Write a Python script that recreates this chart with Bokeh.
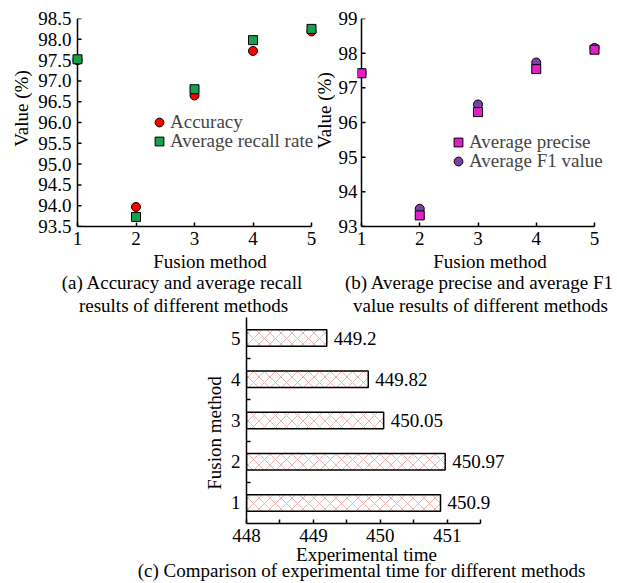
import math
from bokeh.plotting import figure
from bokeh.models import Range1d, FixedTicker, Label, Legend, LegendItem
from bokeh.layouts import column, row
from bokeh.embed import file_html
from bokeh.resources import INLINE
from bokeh.core.properties import value

# ---------------- data ----------------
methods = [1, 2, 3, 4, 5]
accuracy = [97.50, 93.97, 96.65, 97.72, 98.19]
recall_rate = [97.52, 93.73, 96.80, 97.98, 98.25]
avg_precise = [97.42, 93.32, 96.30, 97.54, 98.10]
avg_f1 = [97.43, 93.51, 96.52, 97.73, 98.15]

time_methods = [1, 2, 3, 4, 5]
exp_time = [450.9, 450.97, 450.05, 449.82, 449.2]
time_labels = ["450.9", "450.97", "450.05", "449.82", "449.2"]

x_ticks = [1, 2, 3, 4, 5]
x_tick_labels = ["1", "2", "3", "4", "5"]
y_ticks_a = [93.5, 94.0, 94.5, 95.0, 95.5, 96.0, 96.5, 97.0, 97.5, 98.0, 98.5]
y_tick_labels_a = ["93.5", "94.0", "94.5", "95.0", "95.5", "96.0", "96.5", "97.0", "97.5", "98.0", "98.5"]
y_ticks_b = [93, 94, 95, 96, 97, 98, 99]
y_tick_labels_b = ["93", "94", "95", "96", "97", "98", "99"]
time_ticks = [448, 449, 450, 451]
time_minor_ticks = [448.5, 449.5, 450.5, 451.5]
cat_minor_ticks = [1.5, 2.5, 3.5, 4.5]

FONT = "Liberation Serif"
FS = "19px"


def style_axis(ax):
    ax.axis_line_color = "black"
    ax.axis_line_width = 1.5
    ax.major_tick_in = 4
    ax.major_tick_out = 0
    ax.major_tick_line_width = 1.5
    ax.minor_tick_in = 4
    ax.minor_tick_out = 0
    ax.minor_tick_line_width = 1.5
    ax.major_label_text_font = FONT
    ax.major_label_text_font_size = FS
    ax.major_label_text_color = "black"
    ax.major_label_standoff = 5
    ax.axis_label = None


def base_fig(**kw):
    p = figure(output_backend="svg", toolbar_location=None, title=None, **kw)
    p.xgrid.visible = False
    p.ygrid.visible = False
    p.outline_line_color = None
    p.background_fill_color = "white"
    p.border_fill_color = "white"
    return p


def add_text(p, side, x, y, text, angle=0.0):
    lab = Label(x=x, y=y, x_units="canvas", y_units="canvas", text=text,
                angle=angle, text_align="center", text_baseline="middle",
                text_font=FONT, text_font_size=FS, text_color="black")
    if side is None:
        p.add_layout(lab)
    else:
        p.add_layout(lab, side)


def add_legend(p, renderer, label, loc):
    p.add_layout(Legend(items=[LegendItem(label=label, renderers=[renderer])],
                        location=loc, padding=0, margin=0, spacing=0,
                        glyph_width=22, glyph_height=22, label_height=18,
                        label_standoff=0,
                        label_text_font=FONT, label_text_font_size=FS,
                        background_fill_alpha=0, border_line_color=None), "center")


def value_axis(p, ticks, labels):
    # tick labels from the left axis; axis line and inward ticks drawn at x = 1
    ax = p.yaxis[0]
    style_axis(ax)
    ax.ticker = FixedTicker(ticks=ticks)
    ax.major_label_overrides = dict(zip(ticks, labels))
    ax.axis_line_color = None
    ax.major_tick_in = 0
    ax.major_label_standoff = 0
    p.segment(x0=[methods[0]], y0=[ticks[0]], x1=[methods[0]], y1=[ticks[-1]],
              line_color="black", line_width=1.5)
    p.ray(x=[methods[0]] * len(ticks), y=ticks, length=4, length_units="screen",
          angle=0, line_color="black", line_width=1.5)


def method_axis(p):
    ax = p.xaxis[0]
    style_axis(ax)
    ax.ticker = FixedTicker(ticks=x_ticks)
    ax.major_label_overrides = dict(zip(x_ticks, x_tick_labels))
    ax.bounds = (x_ticks[0], x_ticks[-1])


# ---------------- (a) ----------------
ua = 58.5
pa = base_fig(width=335, height=316,
              x_range=Range1d(1 - 6 / ua, 5 + 24 / ua), y_range=Range1d(93.5, 98.5),
              min_border_left=71, min_border_right=0, min_border_top=18, min_border_bottom=90)
method_axis(pa)
value_axis(pa, y_ticks_a, y_tick_labels_a)

ra1 = pa.scatter(methods, accuracy, marker="circle", size=9, fill_color="#ff0000",
                 line_color="black", line_width=1)
ra2 = pa.scatter(methods, recall_rate, marker="square", size=9, fill_color="#15a04e",
                 line_color="black", line_width=1)
add_legend(pa, ra1, "Accuracy", (77, 93))
add_legend(pa, ra2, "Average recall rate", (77, 74))
add_text(pa, "left", 21, 108, "Value (%)", angle=math.pi / 2)
add_text(pa, "below", 209.5, 261, "Fusion method")
add_text(pa, "below", 182, 281.5, "(a) Accuracy and average recall")
add_text(pa, "below", 183, 304.5, "results of different methods")
# y-axis title of panel (b) lies left of that panel's tick labels
add_text(pa, None, 324, 110, "Value (%)", angle=math.pi / 2)

# ---------------- (b) ----------------
ub = 58.25
pb = base_fig(width=282, height=316,
              x_range=Range1d(1 - 4 / ub, 5 + 23 / ub), y_range=Range1d(93, 99),
              min_border_left=22, min_border_right=0, min_border_top=18, min_border_bottom=90)
method_axis(pb)
value_axis(pb, y_ticks_b, y_tick_labels_b)

rb2 = pb.scatter(methods, avg_f1, marker="circle", size=9, fill_color="#7a40a8",
                 line_color="black", line_width=1)
rb1 = pb.scatter(methods, avg_precise, marker="square", size=9, fill_color="#e020c8",
                 line_color="black", line_width=1)
add_legend(pb, rb1, "Average precise", (90, 73))
add_legend(pb, rb2, "Average F1 value", (90, 54))
add_text(pb, "below", 154.5, 261, "Fusion method")
add_text(pb, "below", 144, 281.5, "(b) Average precise and average F1")
add_text(pb, "below", 145, 304.5, "value results of different methods")

# ---------------- (c) ----------------
uc = 66.9
pc = base_fig(width=617, height=267,
              x_range=Range1d(448, 448 + 274 / uc), y_range=Range1d(0.5, 5.5),
              min_border_left=246, min_border_right=97, min_border_top=1, min_border_bottom=60)
style_axis(pc.xaxis[0])
style_axis(pc.yaxis[0])
pc.xaxis.ticker = FixedTicker(ticks=time_ticks, minor_ticks=time_minor_ticks)
pc.xaxis.bounds = (448, 451.5)
pc.yaxis.ticker = FixedTicker(ticks=time_methods, minor_ticks=cat_minor_ticks)
pc.yaxis.major_tick_in = 0
pc.yaxis.bounds = (0.5, 5.5)
pc.yaxis.major_label_standoff = 6

pc.hbar(y=time_methods, left=448, right=exp_time, height=0.4,
        fill_color="white", line_color="black", line_width=1.5,
        hatch_pattern="diagonal_cross", hatch_color="#efb0b0", hatch_scale=11,
        hatch_weight=1)
pc.text(x=exp_time, y=time_methods, text=time_labels, x_offset=7,
        text_baseline="middle", text_align="left",
        text_font=value(FONT), text_font_size=FS, text_color="black")
add_text(pc, "left", 214, 116.5, "Fusion method", angle=math.pi / 2)
add_text(pc, "left", 366, 237.5, "Experimental time")
add_text(pc, "below", 361, 253.5, "(c) Comparison of experimental time for different methods")

layout = column(row(pa, pb, spacing=0), pc, spacing=0)
open("out.html", "w").write(file_html(layout, INLINE))
